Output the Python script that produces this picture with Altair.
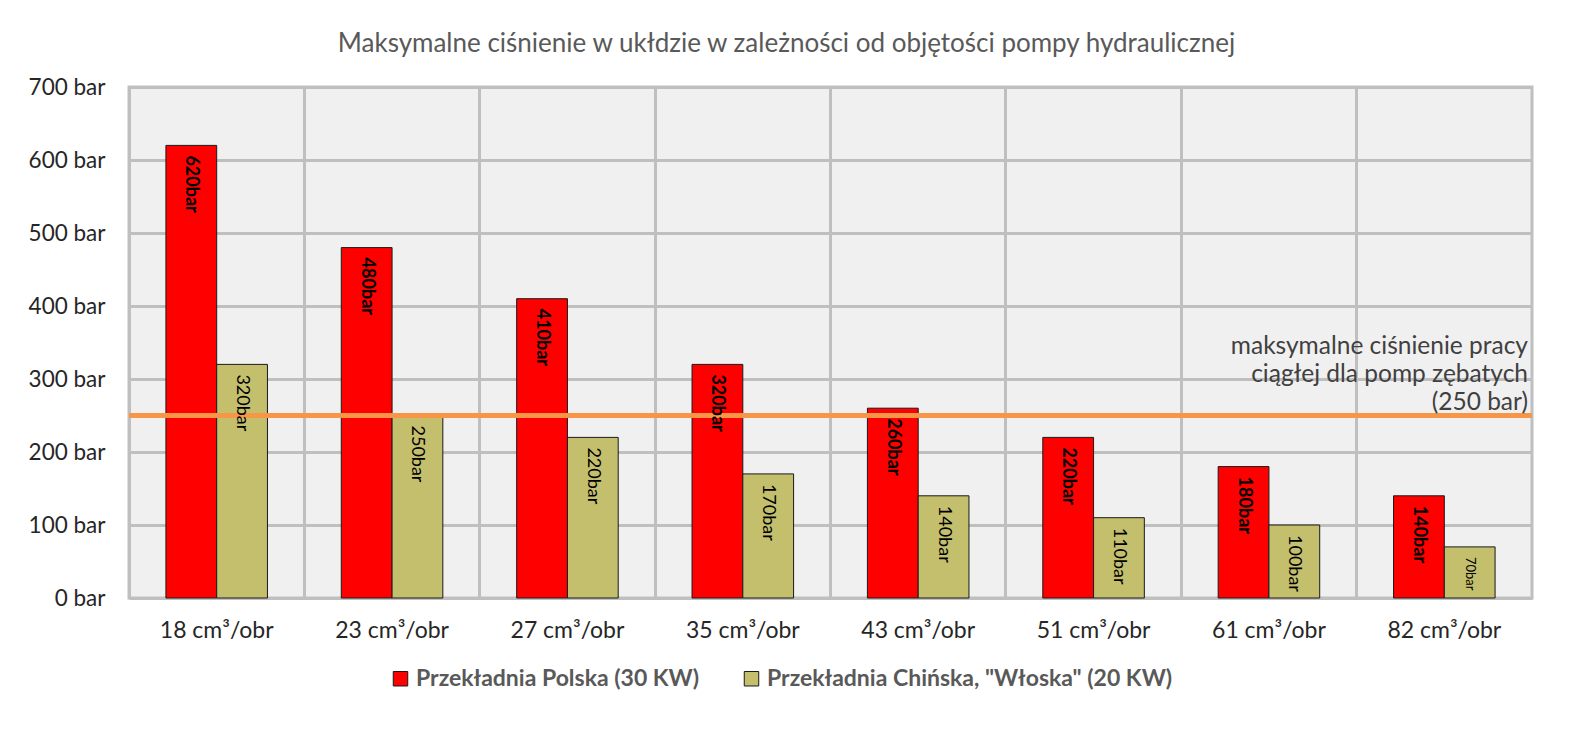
import altair as alt
import pandas as pd

categories = ["18 cm³/obr", "23 cm³/obr", "27 cm³/obr", "35 cm³/obr",
              "43 cm³/obr", "51 cm³/obr", "61 cm³/obr", "82 cm³/obr"]
series = ["Przekładnia Polska (30 KW)", "Przekładnia Chińska, \"Włoska\" (20 KW)"]
polska = [620, 480, 410, 320, 260, 220, 180, 140]
chinska = [320, 250, 220, 170, 140, 110, 100, 70]
limit_value = 250
limit_text = ["maksymalne ciśnienie pracy", "ciągłej dla pomp zębatych", "(250 bar)"]
title_text = "Maksymalne ciśnienie w ukłdzie w zależności od objętości pompy hydraulicznej"

rows = []
for cat, a, b in zip(categories, polska, chinska):
    rows.append({"cat": cat, "series": series[0], "value": a, "label": f"{a}bar"})
    rows.append({"cat": cat, "series": series[1], "value": b, "label": f"{b}bar"})
df = pd.DataFrame(rows)

W, H = 1403, 511
FONT = "Lato"
colors = ["#FF0000", "#C4BF6C"]

x_enc = alt.X("cat:N", sort=categories, title=None,
              scale=alt.Scale(paddingInner=0, paddingOuter=0),
              axis=alt.Axis(bandPosition=0,
                            grid=True, gridColor="#BFBFBF", gridWidth=3,
                            ticks=False, domain=False, labelAngle=0,
                            labelFontSize=23, labelColor="#262626", labelFont=FONT,
                            labelPadding=21))
xoff = alt.XOffset("series:N", sort=series,
                   scale=alt.Scale(paddingInner=0, paddingOuter=0.727))
y_enc = alt.Y("value:Q", title=None,
              scale=alt.Scale(domain=[0, 700]),
              axis=alt.Axis(values=list(range(0, 701, 100)), labelExpr="datum.value + ' bar'",
                            grid=True, gridColor="#BFBFBF", gridWidth=3,
                            ticks=False, domain=False,
                            labelFontSize=22.5, labelColor="#262626", labelFont=FONT,
                            labelPadding=24))

base = alt.Chart(df)

bars = base.mark_bar(stroke="#1a1a1a", strokeWidth=1).encode(
    x=x_enc, xOffset=xoff, y=y_enc,
    color=alt.Color("series:N", sort=series,
                    scale=alt.Scale(domain=series, range=colors),
                    legend=alt.Legend(title=None, orient="none", direction="horizontal",
                                      legendX=260, legendY=580,
                                      symbolType="square", symbolSize=210,
                                      symbolStrokeColor="#1a1a1a", symbolStrokeWidth=1,
                                      labelFont=FONT, labelFontSize=23, labelFontWeight="bold",
                                      labelColor="#595959", columnPadding=40,
                                      labelOffset=4, labelLimit=700)),
)

def label_layer(name, weight):
    return base.transform_filter(alt.datum.series == name).mark_text(
        angle=90, align="left", baseline="middle", dx=10,
        font=FONT, color="#000000", fontWeight=weight).encode(
        x=alt.X("cat:N", sort=categories),
        xOffset=alt.XOffset("series:N", sort=series),
        y="value:Q",
        text="label:N",
        size=alt.condition(alt.datum.value < 100, alt.value(13), alt.value(18)),
    )

labels_a = label_layer(series[0], "bold")
labels_b = label_layer(series[1], "normal")

rule = alt.Chart(pd.DataFrame({"v": [limit_value]})).mark_rule(
    color="#F79646", strokeWidth=5).encode(y="v:Q")

annot = alt.Chart(pd.DataFrame({"v": [limit_value], "t": [limit_text]})).mark_text(
    align="right", baseline="bottom", dy=-57, fontSize=24.5, lineHeight=28,
    font=FONT, color="#404040").encode(
    y="v:Q", x=alt.value(W - 4), text="t")

chart = alt.layer(bars, rule, labels_a, labels_b, annot).properties(
    width=W, height=H,
    title=alt.TitleParams(title_text, font=FONT, fontSize=26, fontWeight="normal",
                          color="#595959", anchor="middle", dx=-44, offset=19),
    autosize=alt.AutoSizeParams(type="none"),
    padding={"left": 121, "top": 79, "right": 30, "bottom": 110},
    background="white",
).configure_view(
    fill="#F0F0F0", stroke="#BFBFBF", strokeWidth=3
)

chart.save("out.html", embed_options={"renderer": "svg", "actions": False})
